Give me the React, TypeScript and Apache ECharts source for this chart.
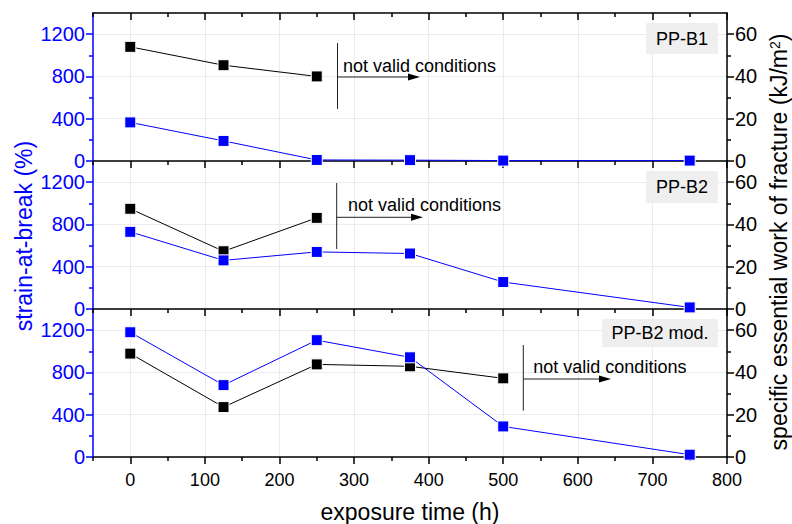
import React, { useEffect, useRef } from 'react';
import * as echarts from 'echarts';

// ---- data ----
const exposureTimes = [0, 125, 250, 375, 500, 750];
const strainB1 = [365, 190, 10, 8, 4, 4];
const wfB1 = [54, 45.3, 40];
const strainB2 = [730, 460, 540, 525, 255, 15];
const wfB2 = [47.4, 27.3, 43.1];
const strainB2mod = [1180, 680, 1105, 943, 289, 22];
const wfB2mod = [48.9, 23.6, 43.8, 42.9, 37.2];
const panelNames = ['PP-B1', 'PP-B2', 'PP-B2 mod.'];

const xMajorTicks = [0, 100, 200, 300, 400, 500, 600, 700, 800];
const xMinorTicks = [-50, 50, 150, 250, 350, 450, 550, 650, 750];
const leftMajorTicks = [0, 400, 800, 1200];
const leftMinorTicks = [200, 600, 1000];
const rightMajorTicks = [0, 20, 40, 60];
const rightMinorTicks = [10, 30, 50];

const FONT = 'Liberation Sans, Arial, sans-serif';
const BLUE = '#0000ff';

const zip = (xs: number[], ys: number[]) => ys.map((y, i) => [xs[i], y]);
const plain = (v: number) => String(v);

export default function App() {
  const ref = useRef<HTMLDivElement>(null);

  useEffect(() => {
    if (!ref.current) return;
    const chart = echarts.init(ref.current, undefined, { renderer: 'svg' });

    const gridTops = [13, 161, 309];
    const gridH = 148;
    const grids = gridTops.map((t) => ({
      left: 93,
      right: 65,
      top: t,
      height: gridH,
      outerBoundsMode: 'none',
      containLabel: false,
    }));

    const xAxes: any[] = [];
    const yAxes: any[] = [];
    const mainX: number[] = [];
    const leftY: number[] = [];
    const rightY: number[] = [];

    const baseX = (g: number) => ({
      type: 'value',
      gridIndex: g,
      min: -50,
      max: 800,
      interval: 50,
    });

    for (let g = 0; g < 3; g++) {
      mainX.push(xAxes.length);
      xAxes.push({
        ...baseX(g),
        position: 'bottom',
        axisLine: { show: true, onZero: false, lineStyle: { color: '#000', width: 1.5 } },
        axisTick: { show: true, inside: false, length: 7, customValues: xMajorTicks, lineStyle: { color: '#000', width: 1.5 } },
        axisLabel: {
          show: g === 2,
          customValues: xMajorTicks,
          formatter: plain,
          color: '#000',
          fontSize: 18,
          fontFamily: FONT,
          margin: 14,
        },
        splitLine: { show: true, lineStyle: { color: '#ebebeb', width: 1 } },
      });
      xAxes.push({
        ...baseX(g),
        position: 'bottom',
        axisLine: { show: false, onZero: false },
        axisTick: { show: true, inside: false, length: 4, customValues: xMinorTicks, lineStyle: { color: '#000', width: 1.5 } },
        axisLabel: { show: false },
        splitLine: { show: false },
      });
      if (g === 0) {
        xAxes.push({
          ...baseX(g),
          position: 'top',
          axisLine: { show: true, onZero: false, lineStyle: { color: '#000', width: 1.5 } },
          axisTick: { show: true, inside: true, length: 7, customValues: xMajorTicks, lineStyle: { color: '#000', width: 1.5 } },
          axisLabel: { show: false },
          splitLine: { show: false },
        });
        xAxes.push({
          ...baseX(g),
          position: 'top',
          axisLine: { show: false, onZero: false },
          axisTick: { show: true, inside: true, length: 4, customValues: xMinorTicks, lineStyle: { color: '#000', width: 1.5 } },
          axisLabel: { show: false },
          splitLine: { show: false },
        });
      }

      // left (strain) axes
      leftY.push(yAxes.length);
      yAxes.push({
        type: 'value',
        gridIndex: g,
        position: 'left',
        min: 0,
        max: 1400,
        interval: 200,
        axisLine: { show: true, onZero: false, lineStyle: { color: BLUE, width: 1.5 } },
        axisTick: { show: true, inside: false, length: 7, customValues: leftMajorTicks, lineStyle: { color: BLUE, width: 1.5 } },
        axisLabel: { show: true, customValues: leftMajorTicks, formatter: plain, color: BLUE, fontSize: 20, fontFamily: FONT, margin: 8 },
        splitLine: { show: true, lineStyle: { color: '#ebebeb', width: 1 } },
      });
      yAxes.push({
        type: 'value',
        gridIndex: g,
        position: 'left',
        min: 0,
        max: 1400,
        interval: 200,
        axisLine: { show: false, onZero: false },
        axisTick: { show: true, inside: false, length: 4, customValues: leftMinorTicks, lineStyle: { color: BLUE, width: 1.5 } },
        axisLabel: { show: false },
        splitLine: { show: false },
      });
      // right (essential work) axes
      rightY.push(yAxes.length);
      yAxes.push({
        type: 'value',
        gridIndex: g,
        position: 'right',
        min: 0,
        max: 70,
        interval: 10,
        axisLine: { show: true, onZero: false, lineStyle: { color: '#000', width: 1.5 } },
        axisTick: { show: true, inside: false, length: 7, customValues: rightMajorTicks, lineStyle: { color: '#000', width: 1.5 } },
        axisLabel: { show: true, customValues: rightMajorTicks, formatter: plain, color: '#000', fontSize: 20, fontFamily: FONT, margin: 8 },
        splitLine: { show: false },
      });
      yAxes.push({
        type: 'value',
        gridIndex: g,
        position: 'right',
        min: 0,
        max: 70,
        interval: 10,
        axisLine: { show: false, onZero: false },
        axisTick: { show: true, inside: false, length: 4, customValues: rightMinorTicks, lineStyle: { color: '#000', width: 1.5 } },
        axisLabel: { show: false },
        splitLine: { show: false },
      });
    }

    const strainSets = [strainB1, strainB2, strainB2mod];
    const wfSets = [wfB1, wfB2, wfB2mod];

    const series: any[] = [];
    for (let g = 0; g < 3; g++) {
      series.push({
        type: 'line',
        name: panelNames[g] + ' Wf',
        xAxisIndex: mainX[g],
        yAxisIndex: rightY[g],
        data: zip(exposureTimes, wfSets[g]),
        symbol: 'rect',
        symbolSize: 11,
        lineStyle: { color: '#000', width: 1 },
        itemStyle: { color: '#000', borderColor: '#fff', borderWidth: 1 },
        z: 3,
      });
      series.push({
        type: 'line',
        name: panelNames[g] + ' strain',
        xAxisIndex: mainX[g],
        yAxisIndex: leftY[g],
        data: zip(exposureTimes, strainSets[g]),
        symbol: 'rect',
        symbolSize: 11,
        lineStyle: { color: BLUE, width: 1 },
        itemStyle: { color: BLUE, borderColor: '#fff', borderWidth: 1 },
        z: 4,
      });
    }

    const labelBoxes = [
      { x: 646, y: 23, w: 72, h: 31 },
      { x: 646, y: 171, w: 72, h: 32 },
      { x: 602, y: 319, w: 116, h: 28 },
    ];
    const annotations = [
      { vx: 337.5, y1: 43, y2: 109, ay: 77, ax2: 420, tx: 343, ty: 65.5 },
      { vx: 336.7, y1: 183, y2: 249, ay: 217.3, ax2: 423, tx: 348, ty: 205 },
      { vx: 523.3, y1: 345, y2: 410.7, ay: 379, ax2: 611, tx: 533.3, ty: 366.5 },
    ];

    const graphic: any[] = [];
    labelBoxes.forEach((b, i) => {
      graphic.push({
        type: 'rect',
        shape: { x: b.x, y: b.y, width: b.w, height: b.h },
        style: { fill: '#efefef' },
        z: 10,
      });
      graphic.push({
        type: 'text',
        x: b.x + b.w / 2,
        y: b.y + b.h / 2,
        style: { text: panelNames[i], fill: '#000', fontSize: 18, fontFamily: FONT, align: 'center', verticalAlign: 'middle' },
        z: 11,
      });
    });
    annotations.forEach((a) => {
      graphic.push({
        type: 'line',
        shape: { x1: a.vx, y1: a.y1, x2: a.vx, y2: a.y2 },
        style: { stroke: '#222', lineWidth: 1 },
        z: 10,
      });
      graphic.push({
        type: 'line',
        shape: { x1: a.vx, y1: a.ay, x2: a.ax2 - 10, y2: a.ay },
        style: { stroke: '#222', lineWidth: 1 },
        z: 10,
      });
      graphic.push({
        type: 'polygon',
        shape: { points: [[a.ax2, a.ay], [a.ax2 - 12, a.ay - 3.5], [a.ax2 - 12, a.ay + 3.5]] },
        style: { fill: '#000' },
        z: 10,
      });
      graphic.push({
        type: 'text',
        x: a.tx,
        y: a.ty,
        style: { text: 'not valid conditions', fill: '#000', fontSize: 18, fontFamily: FONT, align: 'left', verticalAlign: 'middle' },
        z: 11,
      });
    });
    // axis titles
    graphic.push({
      type: 'text',
      x: 24,
      y: 236,
      rotation: Math.PI / 2,
      style: { text: 'strain-at-break (%)', fill: BLUE, fontSize: 23, fontFamily: FONT, align: 'center', verticalAlign: 'middle' },
      z: 11,
    });
    graphic.push({
      type: 'text',
      x: 779,
      y: 242,
      rotation: Math.PI / 2,
      style: {
        text: '{a|specific essential work of fracture (kJ/m}{s|2}{a|)}',
        fill: '#000',
        align: 'center',
        verticalAlign: 'middle',
        rich: {
          a: { fontSize: 23, fontFamily: FONT, fill: '#000' },
          s: { fontSize: 14, fontFamily: FONT, fill: '#000', verticalAlign: 'top' },
        },
      },
      z: 11,
    });
    graphic.push({
      type: 'text',
      x: 410,
      y: 512,
      style: { text: 'exposure time (h)', fill: '#000', fontSize: 23, fontFamily: FONT, align: 'center', verticalAlign: 'middle' },
      z: 11,
    });

    chart.setOption({
      animation: false,
      backgroundColor: '#fff',
      textStyle: { fontFamily: FONT },
      grid: grids,
      xAxis: xAxes,
      yAxis: yAxes,
      series,
      graphic,
    });

    return () => chart.dispose();
  }, []);

  return (
    <div
      ref={ref}
      style={{ position: 'fixed', left: 0, top: 0, width: 792, height: 524, background: '#fff' }}
    />
  );
}
